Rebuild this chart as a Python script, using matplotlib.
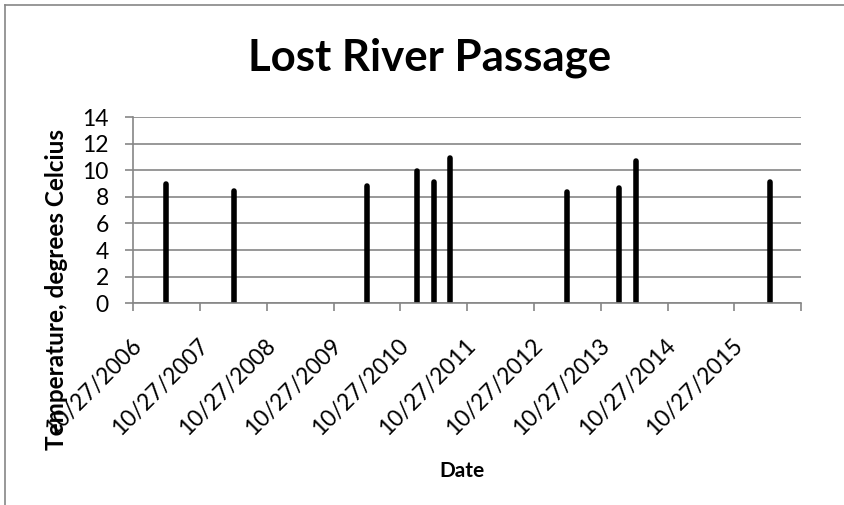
import matplotlib
matplotlib.use("Agg")
import matplotlib.pyplot as plt
import matplotlib.dates as mdates
from matplotlib.lines import Line2D
from matplotlib.transforms import ScaledTranslation
import numpy as np
import pandas as pd

# Readings (dates estimated from bar positions on the yearly axis)
dates = ["2007-04-27", "2008-04-30", "2010-04-28", "2011-01-27", "2011-04-28",
         "2011-07-28", "2013-04-27", "2014-02-05", "2014-05-08", "2016-05-08"]
temps = [9.0, 8.45, 8.85, 9.95, 9.15, 10.95, 8.35, 8.65, 10.7, 9.1]

tick_dates = ["2006-10-27", "2007-10-27", "2008-10-27", "2009-10-27", "2010-10-27",
              "2011-10-27", "2012-10-27", "2013-10-27", "2014-10-27", "2015-10-27",
              "2016-10-27"]
tick_labels = ["10/27/2006", "10/27/2007", "10/27/2008", "10/27/2009", "10/27/2010",
               "10/27/2011", "10/27/2012", "10/27/2013", "10/27/2014", "10/27/2015", ""]
y_ticks = [0, 2, 4, 6, 8, 10, 12, 14]

title = "Lost River Passage"
x_title = "Date"
y_title = "Temperature, degrees Celcius"

plt.rcParams["font.family"] = ["Lato", "DejaVu Sans"]
grey = "#868686"

W, H = 844, 505
fig = plt.figure(figsize=(W / 100, H / 100), dpi=100)

# plot area in pixels: x 133..801, y 117..303
ax = fig.add_axes([133 / W, 1 - 303.3 / H, (801.3 - 133) / W, (303.3 - 117) / H])

x = mdates.datestr2num(dates)
xt = mdates.datestr2num(tick_dates)

ax.vlines(x, 0, temps, colors="black", linewidth=4.0, capstyle="round", zorder=3)

ax.set_xlim(xt[0], xt[-1])
ax.set_ylim(0, 14)
ax.set_yticks(y_ticks)
ax.set_xticks(xt)
ax.set_xticklabels(tick_labels)

ax.grid(axis="y", color=grey, linewidth=1.2)
ax.set_axisbelow(True)
for s in ["top", "right"]:
    ax.spines[s].set_visible(False)
for s in ["left", "bottom"]:
    ax.spines[s].set_color(grey)
    ax.spines[s].set_linewidth(1.2)
    ax.spines[s].set_zorder(4)

ax.tick_params(axis="y", direction="out", length=5.5, width=1.2, color=grey,
               labelsize=16.5, pad=12)
ax.tick_params(axis="x", direction="out", length=6, width=1.2, color=grey,
               labelsize=16.5, pad=22)

offset = ScaledTranslation(5 / 100, 0, fig.dpi_scale_trans)
for lab in ax.get_xticklabels():
    lab.set_rotation(45)
    lab.set_rotation_mode("anchor")
    lab.set_ha("right")
    lab.set_va("center")
    lab.set_transform(lab.get_transform() + offset)

fig.text(430 / W, 1 - 70 / H, title, ha="center", va="baseline",
         fontsize=31.5, fontweight="bold")
fig.text(462 / W, 1 - 477 / H, x_title, ha="center", va="baseline",
         fontsize=15, fontweight="bold")
fig.text(56 / W, 1 - 290 / H, y_title, ha="center", va="center",
         rotation=90, fontsize=17.5, fontweight="bold")

# chart area border (left and top edges are visible)
fig.add_artist(Line2D([5 / W, 5 / W], [0, 1 - 5 / H], transform=fig.transFigure,
                      color=grey, linewidth=1.2))
fig.add_artist(Line2D([5 / W, 1], [1 - 5 / H, 1 - 5 / H], transform=fig.transFigure,
                      color=grey, linewidth=1.2))

fig.savefig("out.png", dpi=100)
